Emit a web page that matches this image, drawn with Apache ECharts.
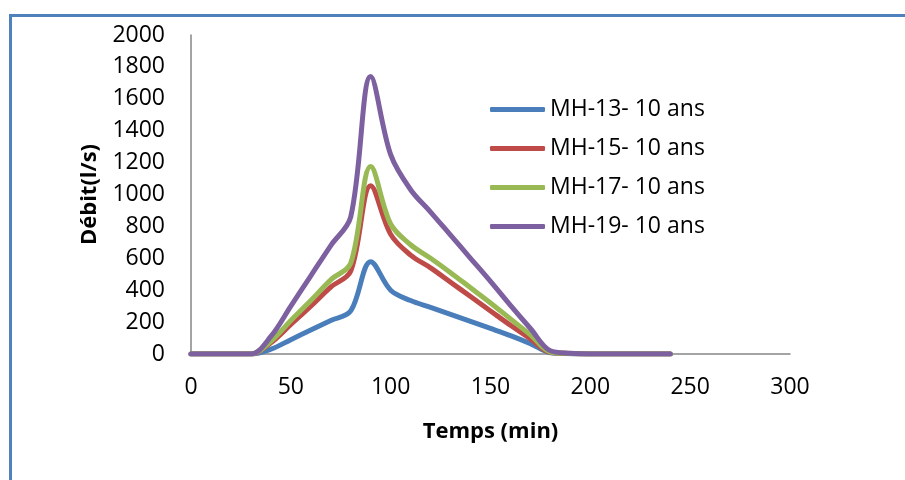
<!DOCTYPE html>
<html>
<head>
<meta charset="utf-8">
<title>Hydrogrammes de crue</title>
<script src="https://cdn.jsdelivr.net/npm/echarts@6/dist/echarts.min.js"></script>
<style>
  html, body { margin: 0; padding: 0; background: #ffffff; }
  #chart { width: 905px; height: 480px; }
</style>
</head>
<body>
<div id="chart"></div>
<script>
// Time steps (min)
const temps = [0, 10, 20, 30, 40, 50, 60, 70, 80, 90, 100, 110, 120, 130, 140, 150, 160, 170, 180, 190, 200, 210, 220, 230, 240];

// Discharge (l/s) for each basin, 10-year return period
const mh13 = [0, 0, 0, 0, 30, 90, 150, 210, 270, 579, 400, 335, 292, 248, 204, 160, 115, 65, 8, 2, 0, 0, 0, 0, 0];
const mh15 = [0, 0, 0, 0, 70, 185, 300, 420, 520, 1055, 750, 620, 540, 450, 360, 270, 180, 95, 10, 3, 0, 0, 0, 0, 0];
const mh17 = [0, 0, 0, 0, 80, 210, 335, 465, 570, 1175, 815, 685, 600, 510, 415, 320, 220, 120, 12, 3, 0, 0, 0, 0, 0];
const mh19 = [0, 0, 0, 0, 110, 300, 490, 680, 860, 1740, 1250, 1030, 890, 745, 600, 455, 305, 160, 20, 5, 0, 0, 0, 0, 0];

const seriesNames = ['MH-13- 10 ans', 'MH-15- 10 ans', 'MH-17- 10 ans', 'MH-19- 10 ans'];
const seriesColors = ['#4A7EBB', '#BE4B48', '#98B954', '#7D60A0'];
const seriesValues = [mh13, mh15, mh17, mh19];

const FONT = '"Open Sans", "Liberation Sans", sans-serif';

const chart = echarts.init(document.getElementById('chart'), null, { renderer: 'canvas' });

const series = seriesValues.map((vals, i) => ({
  name: seriesNames[i],
  type: 'line',
  data: temps.map((t, k) => [t, vals[k]]),
  smooth: 0.35,
  showSymbol: false,
  symbol: 'none',
  lineStyle: { color: seriesColors[i], width: 5, cap: 'round', join: 'round' },
  itemStyle: { color: seriesColors[i] },
  z: 2 + i
}));

chart.setOption({
  animation: false,
  backgroundColor: '#ffffff',
  grid: { left: 191, right: 115, top: 35, bottom: 126, containLabel: false },
  xAxis: {
    type: 'value',
    min: 0, max: 300, interval: 50,
    name: 'Temps (min)',
    nameLocation: 'middle',
    nameGap: 67,
    nameTextStyle: { fontFamily: FONT, fontSize: 22, fontWeight: 'bold', color: '#000' },
    axisLine: { show: true, lineStyle: { color: '#868686', width: 1.5 } },
    axisTick: { show: false },
    splitLine: { show: false },
    axisLabel: { fontFamily: FONT, fontSize: 23, color: '#000', margin: 22, formatter: v => String(v) }
  },
  yAxis: {
    type: 'value',
    min: 0, max: 2000, interval: 200,
    name: 'Débit(l/s)',
    nameLocation: 'middle',
    nameGap: 90,
    nameRotate: 90,
    nameTextStyle: { fontFamily: FONT, fontSize: 22, fontWeight: 'bold', color: '#000' },
    axisLine: { show: true, lineStyle: { color: '#868686', width: 1.5 } },
    axisTick: { show: false },
    splitLine: { show: false },
    axisLabel: { fontFamily: FONT, fontSize: 23, color: '#000', margin: 26, formatter: v => String(v) }
  },
  legend: {
    orient: 'vertical',
    left: 490,
    top: 97,
    padding: 0,
    itemWidth: 55,
    itemHeight: 5,
    itemGap: 14,
    icon: 'roundRect',
    textStyle: { fontFamily: FONT, fontSize: 23, color: '#000', lineHeight: 25 },
    data: seriesNames
  },
  graphic: [
    { type: 'line', shape: { x1: 9, y1: 15.5, x2: 905, y2: 15.5 }, style: { stroke: '#4F81BD', lineWidth: 3 }, silent: true },
    { type: 'line', shape: { x1: 10.5, y1: 14, x2: 10.5, y2: 480 }, style: { stroke: '#4F81BD', lineWidth: 3 }, silent: true }
  ],
  series: series
});
</script>
</body>
</html>
